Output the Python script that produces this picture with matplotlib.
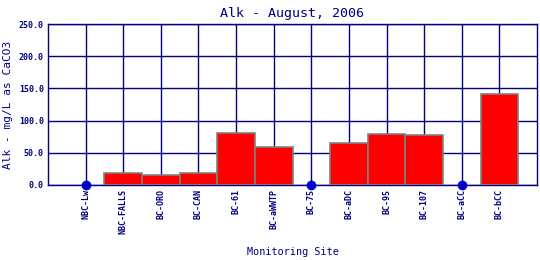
import matplotlib
matplotlib.use("Agg")
import matplotlib.pyplot as plt
import numpy as np

sites = ["NBC-Lw", "NBC-FALLS", "BC-ORO", "BC-CAN", "BC-61", "BC-aWWTP",
         "BC-75", "BC-aDC", "BC-95", "BC-107", "BC-aCC", "BC-bCC"]
values = [None, 18, 15.5, 18, 80, 58.5, None, 65, 79, 77, None, 141]
yticks = [0, 50, 100, 150, 200, 250]

navy = "#000080"
plt.rcParams['font.family'] = ['DejaVu Sans Mono']

fig = plt.figure(figsize=(5.4, 2.6), dpi=100)
ax = fig.add_axes([48/540, 75/260, 489/540, 161/260])

x = np.arange(1, len(sites) + 1)
for xi, v in zip(x, values):
    if v is None:
        ax.plot([xi], [0], 'o', color="#0000cc", markersize=6, zorder=5, clip_on=False)
    else:
        ax.bar(xi, v, width=1.0, color="#ff0000", edgecolor="#808080", linewidth=1.2, zorder=3)

ax.set_xlim(0, len(sites) + 1)
ax.set_ylim(0, 250)
ax.set_xticks(x)
ax.set_xticklabels(sites, rotation=90, fontsize=6, color=navy, fontweight='bold')
ax.set_yticks(yticks)
ax.set_yticklabels([f"{t:.1f}" for t in yticks], fontsize=6, color=navy, fontweight='bold')
ax.grid(True, which='major', color=navy, linewidth=1.0, zorder=0)
ax.set_axisbelow(True)
ax.tick_params(length=0, pad=3)
for s in ax.spines.values():
    s.set_color(navy)
    s.set_linewidth(1.0)

ax.set_title("Alk - August, 2006", fontsize=9.6, color=navy, pad=5)
ax.set_xlabel("Monitoring Site", fontsize=7.3, color=navy, labelpad=9)
ax.set_ylabel("Alk - mg/L as CaCO3", fontsize=8, color=navy, labelpad=4)

fig.savefig("out.png", dpi=100, facecolor="white")
